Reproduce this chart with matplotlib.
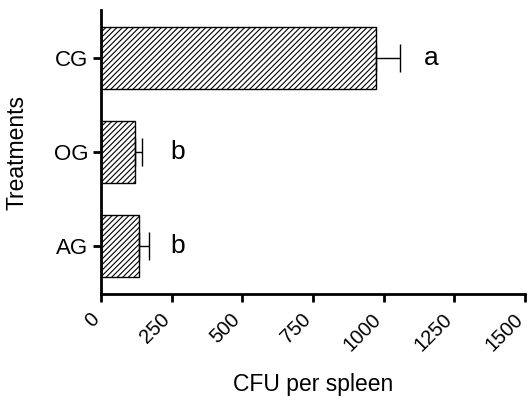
import matplotlib
matplotlib.use("Agg")
import matplotlib.pyplot as plt
import matplotlib.transforms as mtransforms

plt.rcParams['font.family'] = ['Liberation Sans', 'DejaVu Sans']
plt.rcParams['hatch.linewidth'] = 0.8

categories = ["AG", "OG", "CG"]
values = [135, 120, 974]
errors = [35, 24, 83]
letters = ["b", "b", "a"]
xticks = [0, 250, 500, 750, 1000, 1250, 1500]

fig = plt.figure(figsize=(5.28, 4.03), dpi=100)
ax = fig.add_axes([0.191, 0.270, 0.803, 0.705])

pos = list(range(len(categories)))
ax.barh(pos, values, height=0.66, color="white", edgecolor="black",
        linewidth=1.0, hatch="//////")
ax.errorbar(values, pos, xerr=[[0]*len(values), errors], fmt="none",
            ecolor="black", elinewidth=1.0, capsize=10, capthick=1.0)
for p, v, e, l in zip(pos, values, errors, letters):
    lx = v + e + 111 if l == "a" else 272
    ax.text(lx, p, l, fontsize=19, va="center", ha="center")

ax.set_xlim(0, 1500)
ax.set_ylim(-0.51, 2.51)
ax.set_xticks(xticks)
ax.set_xticklabels([str(t) for t in xticks], rotation=45, ha="right",
                   va="center", rotation_mode="anchor", fontsize=14.5)
ax.set_yticks(pos)
ax.set_yticklabels(categories, fontsize=16)
ax.tick_params(axis="both", width=2, length=6, direction="out")
ax.tick_params(axis="x", pad=10)
ax.tick_params(axis="y", pad=3)
for s in ["top", "right"]:
    ax.spines[s].set_visible(False)
for s in ["left", "bottom"]:
    ax.spines[s].set_linewidth(2)
ax.set_xlabel("CFU per spleen", fontsize=16.5, labelpad=13)
ax.set_ylabel("Treatments", fontsize=16.5, labelpad=18)

fig.canvas.draw()
offset = mtransforms.ScaledTranslation(-5 / 100, 0, fig.dpi_scale_trans)
for tick in ax.xaxis.get_major_ticks():
    tick.label1.set_transform(tick.label1.get_transform() + offset)

fig.savefig("out.png", dpi=100)
